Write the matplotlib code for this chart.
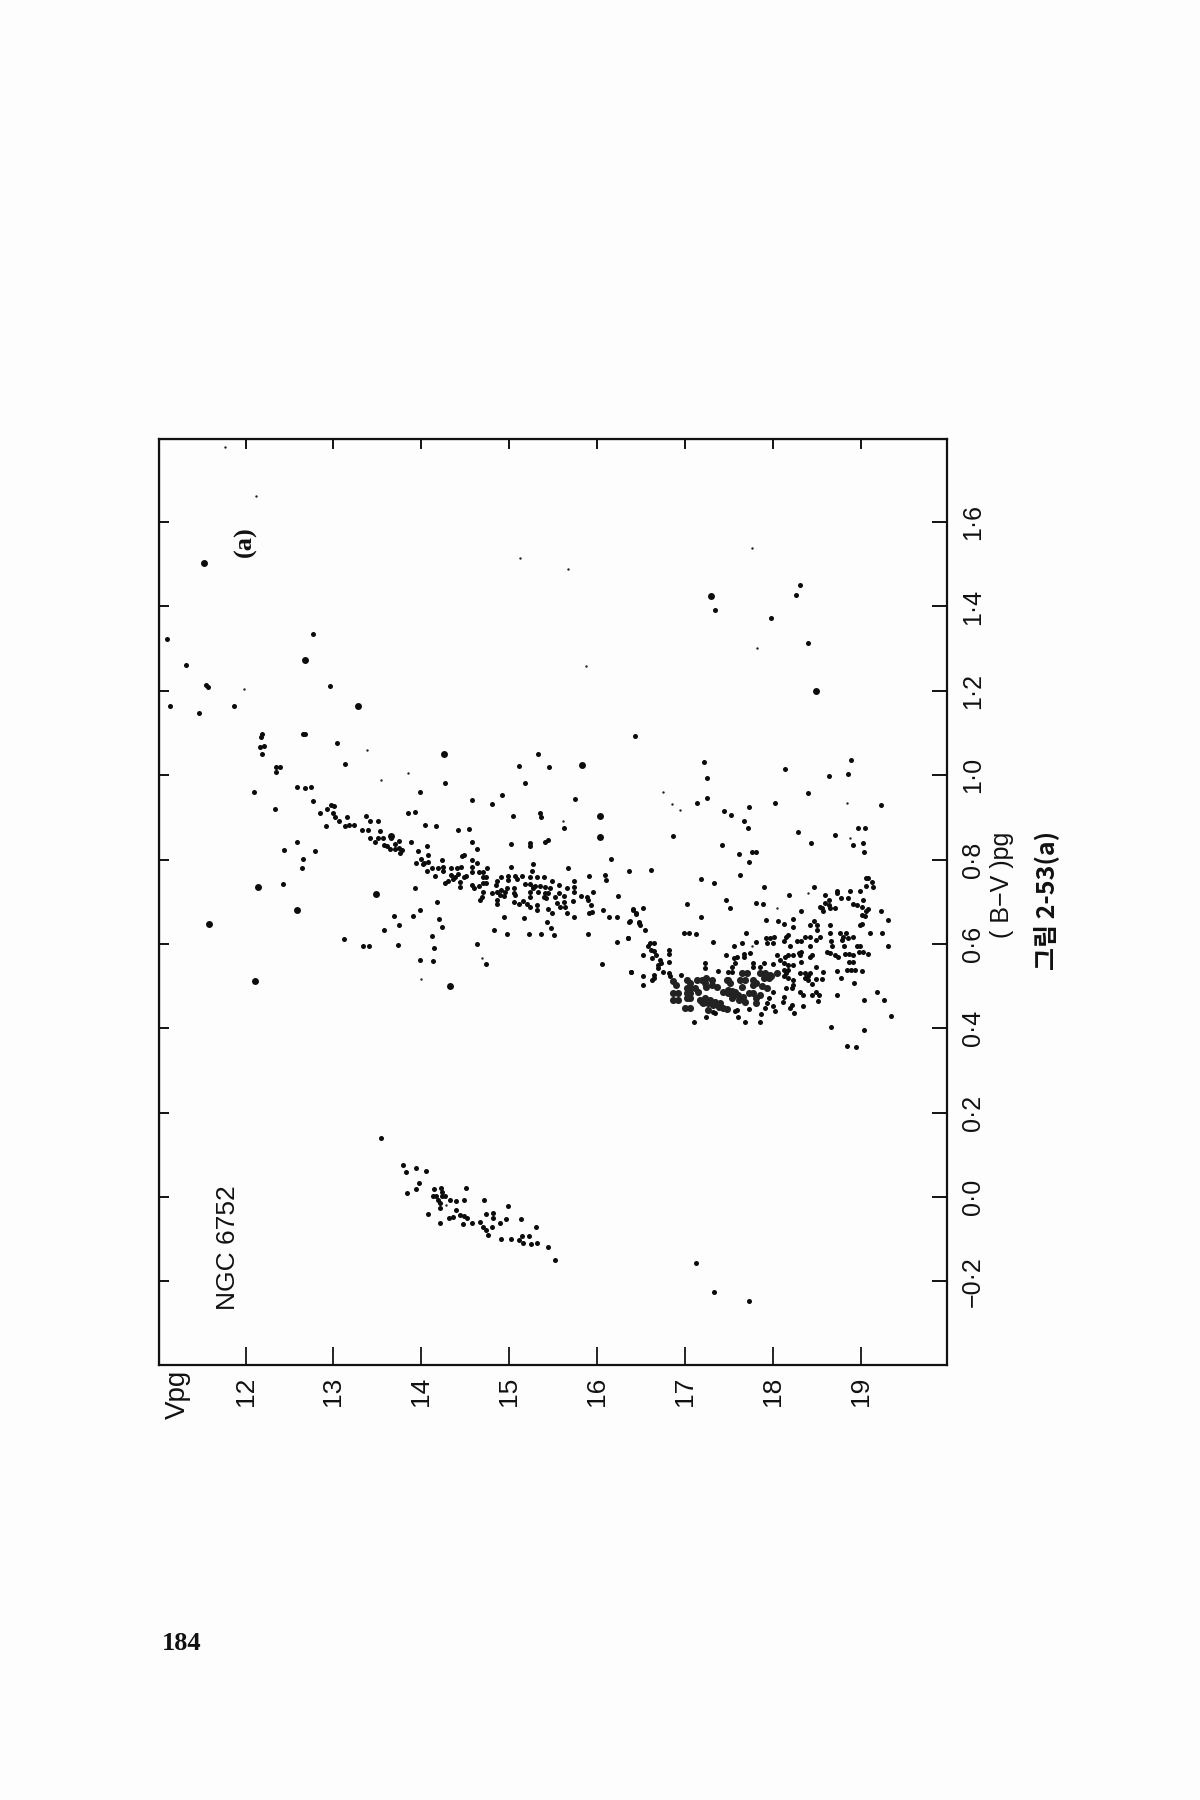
from matplotlib import pyplot as plt
import numpy as np

plt.rcParams['font.family'] = ['Liberation Sans', 'Noto Sans CJK KR', 'DejaVu Sans']

# tick values and labels
V_TICKS = [12, 13, 14, 15, 16, 17, 18, 19]
BV_TICKS = [-0.2, 0.0, 0.2, 0.4, 0.6, 0.8, 1.0, 1.2, 1.4, 1.6]
BV_LABELS = ['\u22120\u00b72', '0\u00b70', '0\u00b72', '0\u00b74', '0\u00b76', '0\u00b78', '1\u00b70', '1\u00b72', '1\u00b74', '1\u00b76']

# stars as (Vpg, (B-V)pg)
big_stars = [(11.53,1.502),(12.68,1.273),(13.28,1.165),(14.26,1.050),(15.83,1.023),(17.29,1.425),(18.49,1.200),
    (13.65,.857),(16.03,.903),(16.03,.853),(12.59,.680),(13.48,.718),(14.33,.500),(12.14,.735),(11.58,.647),(12.11,.512)]

faint_stars = [(11.77,1.777),(12.115,1.663),(11.98,1.204),(15.12,1.514),(13.38,1.060),(13.54,.988),(13.85,1.006),
    (15.67,1.489),(15.87,1.258),(17.76,1.539),(17.82,1.302),(16.94,.918),(16.75,.961),(16.85,.931),(18.84,.934),
    (15.61,.891),(14.69,.567),(13.99,.518),(18.87,.851),(18.04,.685),(18.40,.720),(17.76,.594),(14.28,-.020)]

bright_stars = [(11.11,1.324),(11.32,1.261),(11.55,1.215),(11.57,1.210),(11.14,1.163),(11.47,1.147),(11.87,1.165),
    (12.77,1.335),(12.96,1.212),(12.18,1.091),(12.19,1.098),(12.16,1.068),(12.21,1.069),(12.19,1.050),
    (12.65,1.097),(12.68,1.097),(13.04,1.076),(13.13,1.027),(12.35,1.020),(12.39,1.020),(12.35,1.008),
    (12.10,.959),(12.58,.971),(12.68,.969),(12.74,.971),(12.77,.939),(12.33,.921),(13.98,.961),(14.27,.981),
    (14.57,.942),(14.80,.932),(14.92,.953),(15.11,1.022),(15.18,.982),(15.33,1.050),(15.04,.904),(15.45,1.020),
    (15.75,.944),(15.35,.910),(16.43,1.093),(17.34,1.392),(17.98,1.373),(18.26,1.427),(18.30,1.451),(18.40,1.313),
    (17.21,1.031),(17.25,.994),(17.25,.945),(17.13,.935),(17.44,.915),(17.52,.905),(17.73,.925),(18.02,.933),
    (18.13,1.015),(18.40,.957),(18.63,.997),(18.85,1.003),(18.88,1.036),(19.23,.929),
    (12.58,.842),(12.79,.820),(12.65,.801),(12.64,.779),(12.43,.742),(12.44,.823),(13.12,.612),(13.34,.596),(13.40,.596)]

giant_branch = [(12.85,.910),(12.93,.919),(12.97,.929),(13.01,.927),(12.99,.910),(13.15,.902),(13.37,.903),(13.85,.911),(13.93,.913),
    (13.02,.900),(13.06,.891),(12.92,.880),(13.13,.880),(13.18,.881),(13.23,.881),(13.42,.891),(13.51,.891),(13.33,.871),(13.39,.871),
    (13.53,.868),(13.42,.852),(13.47,.842),(13.51,.852),(13.56,.852),(13.65,.852),(13.57,.834),(13.605,.831),(13.64,.825),
    (13.70,.837),(13.75,.843),(13.70,.824),(13.74,.828),(13.76,.816),(13.78,.823),(14.04,.881),(14.17,.879),(14.42,.871),(14.54,.872),
    (13.88,.842),(13.96,.821),(14.06,.832),(14.07,.812),(13.94,.791),(14.00,.801),(14.03,.793),(14.08,.795),(14.02,.789),(14.06,.773),
    (14.23,.799),(14.12,.780),(14.19,.780),(14.15,.760),(14.25,.782),(14.25,.773),(14.34,.781),(14.41,.781),(14.45,.782),(14.46,.809),(14.48,.811),
    (14.57,.842),(14.63,.824),(14.57,.800),(14.63,.793),(14.57,.782),(14.58,.771),(14.65,.771),(14.70,.771),(14.75,.779),
    (14.27,.744),(14.30,.750),(14.34,.763),(14.38,.758),(14.42,.765),(14.36,.755),(14.44,.748),(14.48,.758),(14.51,.762),(14.44,.734),
    (14.57,.740),(14.60,.733),(14.65,.737),(14.70,.758),(14.74,.758),(14.70,.745),(14.74,.745),(14.70,.724),(14.69,.712),(14.67,.703),
    (14.86,.750),(14.85,.740),(14.91,.758),(14.98,.762),(14.98,.752),(15.06,.761),(15.09,.754),(15.14,.761),(15.02,.782),
    (15.36,.900),(15.62,.874),(15.02,.836),(15.23,.840),(15.23,.833),(15.41,.842),(15.44,.846),(16.16,.802),(15.27,.790),(15.26,.773),(15.23,.759),
    (15.67,.780),(15.90,.762),(16.09,.763),(16.10,.751),(16.36,.774),(15.39,.758),(15.31,.758),(15.48,.749),(15.57,.739),(15.66,.732),
    (15.73,.749),(15.73,.734),(15.73,.724),(15.95,.722),(15.82,.714),(15.88,.712),(15.89,.703),(16.24,.714),(15.93,.692),(15.90,.674),(15.94,.676),
    (16.07,.680),(16.13,.663),(16.22,.665),(16.37,.654),(16.41,.680),(16.44,.672),(16.47,.650),
    (14.80,.720),(14.86,.724),(14.91,.728),(14.97,.732),(14.89,.716),(14.95,.724),(15.05,.732),(15.05,.720),(15.06,.716),(14.86,.704),(14.86,.695),
    (14.94,.714),(15.05,.700),(15.11,.695),(15.16,.702),(14.94,.663),(15.17,.661),
    (15.18,.741),(15.23,.741),(15.29,.737),(15.35,.737),(15.41,.736),(15.46,.732),(15.23,.724),(15.27,.732),(15.33,.724),(15.41,.720),(15.42,.708),
    (15.39,.712),(15.44,.720),(15.23,.712),(15.27,.736),(15.20,.694),(15.24,.688),(15.32,.692),(15.32,.680),(15.44,.683),(15.49,.673),
    (15.52,.712),(15.56,.720),(15.54,.696),(15.58,.688),(15.62,.714),(15.62,.700),(15.63,.688),(15.72,.702),(15.66,.673),(15.73,.663),
    (15.43,.651),(15.47,.638),(14.82,.633),(14.97,.623),(15.22,.623),(15.36,.623),(15.51,.622),(15.89,.624),(16.22,.605),(16.35,.613),
    (16.05,.553),(16.38,.533),(14.63,.601),(14.73,.552),(16.03,.903)]

asymptotic_side = [(13.93,.732),(14.18,.700),(13.98,.680),(13.90,.667),(13.69,.667),(13.75,.646),(13.58,.632),(14.20,.660),(14.23,.640),
    (14.12,.619),(14.14,.590),(13.98,.561),(14.13,.560),(13.73,.598)]

horizontal_branch = [(13.54,.140),(13.79,.075),(13.94,.070),(13.83,.059),(14.05,.061),(13.97,.033),(13.94,.019),(13.84,.009),(14.14,.020),(14.22,.021),(14.51,.021),
    (14.13,.002),(14.17,.002),(14.23,.002),(14.27,.002),(14.23,.013),(14.19,-.007),(14.21,-.015),(14.21,-.026),(14.33,-.007),(14.39,-.009),(14.48,-.007),(14.71,-.008),
    (14.99,-.022),(14.39,-.030),(14.07,-.041),(14.21,-.062),(14.31,-.050),(14.36,-.048),(14.44,-.042),(14.49,-.045),(14.52,-.050),(14.47,-.063),(14.58,-.062),
    (14.73,-.040),(14.81,-.038),(14.81,-.049),(14.67,-.059),(14.70,-.070),(14.74,-.078),(14.80,-.070),(14.76,-.090),(14.89,-.061),(14.96,-.051),(15.13,-.051),(15.30,-.071),
    (14.90,-.100),(15.02,-.099),(15.14,-.092),(15.22,-.092),(15.11,-.101),(15.15,-.109),(15.25,-.112),(15.32,-.109),(15.44,-.119),(15.52,-.150),
    (17.12,-.157),(17.33,-.226),(17.72,-.246)]

subgiant_scatter = [(16.86,.855),(17.67,.892),(17.71,.874),(17.42,.835),(18.28,.866),(18.43,.839),(18.70,.858),(18.96,.876),(19.04,.876),(18.91,.835),(19.02,.839),(19.03,.817),
    (17.61,.814),(17.76,.817),(17.80,.817),(17.73,.795),(17.62,.763),(16.61,.775),(17.18,.754),(17.33,.744),(17.89,.736),(18.18,.715),(18.46,.736),
    (18.72,.726),(18.73,.720),(18.77,.708),(18.85,.708),(18.87,.726),(18.99,.726),(19.05,.757),(19.08,.757),(19.12,.748),(19.13,.736),(19.05,.738),(19.02,.704),
    (18.91,.695),(18.95,.693),(19.01,.687),(19.08,.682),(19.06,.677),(19.22,.677),(19.30,.657),(19.24,.627),(19.10,.625),(19.31,.596),(19.01,.669),(19.04,.666),(19.01,.647),(18.99,.645),
    (18.59,.716),(18.64,.704),(18.63,.692),(18.59,.696),(18.55,.685),(18.53,.687),(18.57,.679),(18.65,.685),(18.70,.685),
    (17.46,.704),(17.51,.685),(17.80,.696),(17.88,.695),(18.32,.677),(17.02,.695),(17.18,.664),(16.99,.625),(17.04,.625),(17.12,.624)]

turnoff_upper = [(17.92,.657),(18.06,.655),(18.12,.647),(18.22,.659),(18.22,.640),(18.42,.645),(18.46,.655),(18.50,.645),(18.50,.633),(18.65,.644),(18.65,.625),(17.69,.626),
    (17.32,.604),(17.55,.594),(17.65,.603),(17.81,.605),(17.92,.614),(17.93,.602),(17.96,.614),(18.01,.617),(18.00,.602),(18.17,.621),(18.15,.617),(18.12,.606),(18.19,.595),
    (18.27,.606),(18.32,.606),(18.36,.617),(18.42,.617),(18.42,.595),(18.49,.610),(18.53,.616),(18.66,.606),(18.67,.594),(18.76,.625),(18.79,.617),(18.83,.625),(18.85,.614),(18.91,.617),(18.78,.610),
    (18.81,.594),(18.95,.596),(18.99,.596),(18.61,.582),(18.65,.578),(18.70,.574),(18.74,.570),(18.82,.576),(18.86,.576),(18.91,.574),(18.97,.580),(19.02,.580),(19.08,.576),
    (18.86,.556),(18.91,.556),(18.84,.538),(18.89,.538),(18.93,.538),(19.01,.537),(18.73,.537),(18.77,.519),(18.92,.507),(18.72,.478),(19.03,.466),(19.18,.487),(19.26,.466),(19.34,.428),
    (18.66,.404),(19.03,.397),(18.84,.357),(18.94,.356)]

turnoff_lower = [(17.10,.415),(17.24,.426),(17.34,.437),(17.32,.439),(17.57,.440),(17.59,.444),(17.60,.426),(17.68,.416),(17.85,.416),(17.86,.434),(17.73,.445),(17.91,.448),
    (18.00,.452),(18.02,.440),(18.21,.455),(18.19,.448),(18.24,.436),(18.34,.453),(18.51,.465),(18.44,.478),(18.52,.478),(18.49,.487),(18.30,.485),(18.34,.478),(18.12,.475),(18.11,.463),
    (17.93,.461),(17.95,.471),(18.00,.487),
    (16.52,.685),(16.41,.682),(16.44,.673),(16.36,.653),(16.47,.653),(16.49,.645),(16.54,.633),(16.35,.614),(16.60,.603),(16.64,.603),(16.58,.594),(16.61,.586),(16.64,.584),
    (16.52,.574),(16.62,.566),(16.67,.574),(16.81,.586),(16.81,.576),(16.81,.557),(16.71,.562),(16.69,.550),(16.72,.554),(16.69,.542),(16.38,.534),(16.52,.524),(16.52,.503),
    (16.64,.527),(16.64,.519),(16.62,.515),(16.75,.534),(16.81,.532),(16.83,.524),(16.95,.526),(17.22,.554),(17.22,.542),(17.37,.536),(17.46,.574),(17.67,.576),(17.67,.568),(17.74,.578),
    (17.55,.566),(17.59,.568),(17.57,.554),(17.53,.546),(17.49,.534),(17.53,.534),(17.77,.554),(17.77,.546),(17.85,.546),(17.89,.554),(18.00,.553),
    (18.04,.574),(18.08,.562),(18.13,.570),(18.17,.574),(18.23,.574),(18.29,.578),(18.32,.582),(18.31,.574),(18.44,.574),(18.42,.568),(18.32,.557),(18.49,.546),(18.57,.534),
    (18.12,.554),(18.17,.549),(18.23,.549),(18.12,.538),(18.17,.538),(18.15,.530),(18.12,.523),(18.17,.519),(18.23,.515),(18.15,.495),(18.21,.495),(18.23,.503),
    (18.30,.530),(18.36,.530),(18.42,.530),(18.40,.523),(18.36,.519),(18.40,.515),(18.44,.505),(18.49,.516),(18.55,.516)]

turnoff_dense = [(17.85,.532),(17.91,.527),(17.96,.527),(18.04,.530),(17.89,.519),(17.95,.519),(17.91,.532),(17.98,.523),
    (17.64,.530),(17.70,.530),(17.62,.515),(17.68,.515),(17.64,.499),(17.77,.515),(17.81,.507),(17.87,.501),(17.93,.495),(17.77,.503),(17.47,.515),(17.51,.507),(17.49,.515),
    (16.86,.511),(16.90,.503),(16.86,.483),(16.92,.483),(16.86,.466),(16.92,.466),
    (17.02,.515),(17.05,.507),(17.02,.495),(17.05,.495),(17.02,.483),(17.05,.483),(17.02,.471),(17.05,.471),(17.11,.495),(17.15,.487),
    (17.13,.515),(17.19,.515),(17.24,.519),(17.30,.515),(17.22,.507),(17.30,.503),(17.24,.499),(17.36,.499),(17.00,.447),(17.05,.447),
    (17.17,.467),(17.22,.471),(17.28,.467),(17.34,.463),(17.40,.459),(17.20,.459),(17.26,.459),(17.32,.455),(17.38,.451),(17.43,.447),(17.47,.446),(17.26,.444),
    (17.19,.463),(17.24,.465),(17.30,.461),(17.36,.457),(17.43,.487),(17.49,.483),(17.55,.479),(17.60,.479),(17.66,.475),(17.53,.489),(17.49,.491),(17.57,.485),
    (17.72,.483),(17.77,.483),(17.81,.471),(17.81,.459),(17.85,.479),(17.61,.467),(17.53,.471),(17.68,.463)]

normal_groups = [bright_stars, giant_branch, asymptotic_side, horizontal_branch, subgiant_scatter, turnoff_upper, turnoff_lower]


def px_x(x):
    return x / 1200


def px_y(y):
    return 1 - y / 1800


def draw_stars(ax):
    for group in normal_groups:
        v, bv = np.array(group).T
        ax.scatter(v, bv, s=13, color='#0c0c0c', linewidths=0)
    # overprinted dots in the turnoff run together on the page
    v, bv = np.array(turnoff_dense).T
    ax.scatter(v, bv, s=26, color='#222222', linewidths=0)
    v, bv = np.array(big_stars).T
    ax.scatter(v, bv, s=25, color='#0c0c0c', linewidths=0)
    v, bv = np.array(faint_stars).T
    ax.scatter(v, bv, s=3, color='#222222', linewidths=0)


def main():
    fig = plt.figure(figsize=(12, 18), dpi=100, facecolor='#fdfdfd')
    ax = fig.add_axes([px_x(159), px_y(1364.5), px_x(947) - px_x(159), px_y(439) - px_y(1364.5)], facecolor='#fdfdfd')
    draw_stars(ax)

    ax.set_xlim(11.0165, 19.976)
    ax.set_ylim(-0.397, 1.797)
    for spine in ax.spines.values():
        spine.set_linewidth(1.6)
        spine.set_color('#111111')

    # the page is scanned sideways, so all labels are turned by 90 degrees
    ax.set_xticks(V_TICKS)
    ax.set_xticklabels(V_TICKS, rotation=90, fontsize=19, color='#111111')
    ax.set_yticks(BV_TICKS)
    ax.set_yticklabels(BV_LABELS, rotation=90, fontsize=18, color='#111111', va='center')
    ax.yaxis.tick_right()
    ax.tick_params(axis='x', direction='in', length=13, width=1.2, pad=9)
    ax.tick_params(axis='y', direction='in', length=11, width=1.3, pad=10)

    top = ax.secondary_xaxis('top')
    top.set_xticks(V_TICKS)
    top.set_xticklabels([])
    top.tick_params(direction='in', length=7.5, width=1.3)
    left = ax.secondary_yaxis('left')
    left.set_yticks(BV_TICKS)
    left.set_yticklabels([])
    left.tick_params(direction='in', length=7.5, width=1.3)

    fig.text(px_x(228), px_y(1248), 'NGC 6752', rotation=90, fontsize=19, ha='center', va='center', color='#111111')
    fig.text(px_x(245), px_y(542), '(a)', rotation=90, fontsize=19, ha='center', va='center', family='Liberation Serif', weight='bold', color='#111111')
    fig.text(px_x(178), px_y(1394), 'Vpg', rotation=90, fontsize=20, ha='center', va='center', color='#111111')
    fig.text(px_x(1002), px_y(885), '( B\u2212V )pg', rotation=90, fontsize=18, ha='center', va='center', color='#111111')
    fig.text(px_x(1046), px_y(900), '\uadf8\ub9bc 2-53(a)', rotation=90, fontsize=18, ha='center', va='center', family=['Noto Sans CJK KR', 'DejaVu Sans'], weight='bold', color='#111111')
    fig.text(px_x(182), px_y(1644), '184', fontsize=19, ha='center', va='center', family='Liberation Serif', weight='bold', color='#111111')

    fig.savefig('out.png', dpi=100, facecolor=fig.get_facecolor())


main()
